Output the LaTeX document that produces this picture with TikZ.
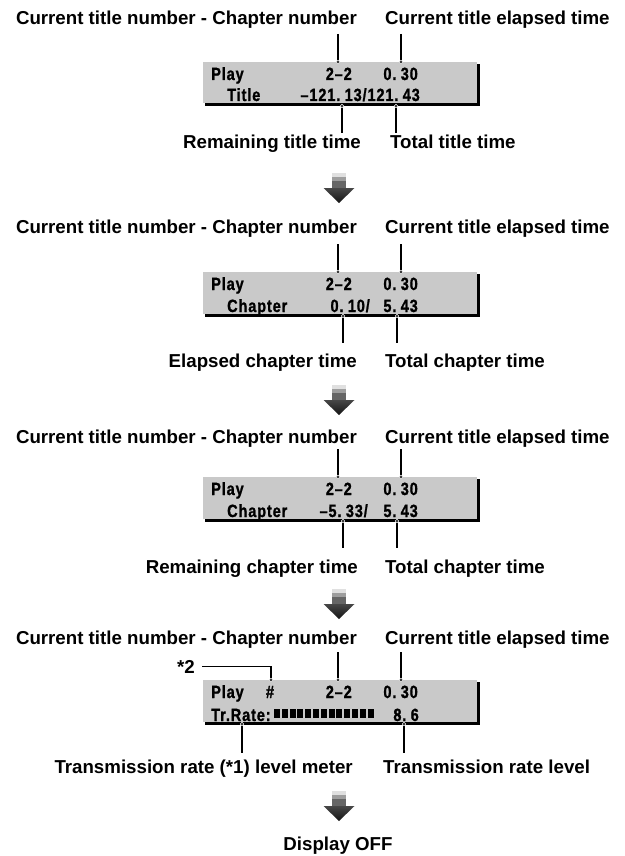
\documentclass[tikz,border=0pt]{standalone}
\usepackage{fontspec}
\newfontfamily\notefont{Liberation Sans}
\newfontfamily\lcdfont{Liberation Sans}[FakeStretch=0.82, LetterSpace=5, FakeBold=1.2, WordSpace=0.55]
\definecolor{lcdgray}{gray}{0.79}
\tikzset{
  note/.style={font={\notefont\bfseries\fontsize{18.7}{22}\selectfont}, inner sep=0pt},
  lcd/.style={font={\lcdfont\bfseries\fontsize{17.7}{20}\selectfont}, inner sep=0pt},
  leader/.style={line width=1.1pt},
  dot/.style={fill=black, draw=white, line width=0.6pt}
}
\begin{document}
\begin{tikzpicture}[x=1pt,y=-1pt]
\useasboundingbox (0,0) rectangle (624,856);
\foreach \p/\py/\dy in {1/62/-37, 2/272/-39, 3/477/-34, 4/680/-36}{
\begin{scope}[shift={(0,\py)}]
  % display with its shadow
  \fill[black] (205,2) rectangle (479.5,44.5);
  \fill[lcdgray] (203,0) rectangle (477,41.5);
  \node[lcd, anchor=base west] (play\p) at (211,18) {Play};
  \node[lcd, anchor=base east] (chap\p) at (352,18) {2–2};
  \node[lcd, anchor=base east] (time\p) at (418,18) {0. 30};
  % top callouts
  \node[note, anchor=base east] (tl\p) at (357,\dy) {Current title number - Chapter number};
  \node[note, anchor=base west] (tr\p) at (385,\dy) {Current title elapsed time};
  \coordinate (ca\p) at (338,0);
  \coordinate (cb\p) at (401,0);
  \coordinate (ea\p) at (338,-28);
  \coordinate (eb\p) at (401,-28);
  \draw[leader] (ea\p) -- (ca\p);
  \draw[leader] (eb\p) -- (cb\p);
  \filldraw[dot] (ca\p) circle (1.8pt);
  \filldraw[dot] (cb\p) circle (1.8pt);
\end{scope}
}
% step arrows
\foreach \a in {173,385,589,791}{
  \fill[black!12] (332,\a) rectangle (346,\a+4);
  \fill[black!38] (332,\a+4) rectangle (346,\a+8);
  \fill[black!60] (332,\a+8) rectangle (346,\a+15.5);
  \shade[top color=black!72, bottom color=black!92] (323.5,\a+15) -- (354.5,\a+15) -- (339,\a+30) -- cycle;
}
% title time
\begin{scope}[shift={(0,62)}]
  \node[lcd, anchor=base west] (row1) at (227,39) {Title};
  \node[lcd, anchor=base east] (val1) at (420,39) {–121. 13/121. 43};
  \coordinate (da1) at (342,44);
  \coordinate (db1) at (396,44);
  \coordinate (fa1) at (342,71);
  \coordinate (fb1) at (396,71);
  \draw[leader] (da1) -- (fa1);
  \draw[leader] (db1) -- (fb1);
  \filldraw[dot] (da1) circle (1.8pt);
  \filldraw[dot] (db1) circle (1.8pt);
  \node[note, anchor=base east] (bl1) at (361,86) {Remaining title time};
  \node[note, anchor=base west] (br1) at (390,86) {Total title time};
\end{scope}
% elapsed chapter time
\begin{scope}[shift={(0,272)}]
  \node[lcd, anchor=base west] (row2) at (227,40) {Chapter};
  \node[lcd, anchor=base east] (val2) at (370,40) {0. 10/};
  \node[lcd, anchor=base east] (tot2) at (418,40) {5. 43};
  \coordinate (da2) at (343,44);
  \coordinate (db2) at (397,44);
  \coordinate (fa2) at (343,71);
  \coordinate (fb2) at (397,71);
  \draw[leader] (da2) -- (fa2);
  \draw[leader] (db2) -- (fb2);
  \filldraw[dot] (da2) circle (1.8pt);
  \filldraw[dot] (db2) circle (1.8pt);
  \node[note, anchor=base east] (bl2) at (357,95) {Elapsed chapter time};
  \node[note, anchor=base west] (br2) at (385,95) {Total chapter time};
\end{scope}
% remaining chapter time
\begin{scope}[shift={(0,477)}]
  \node[lcd, anchor=base west] (row3) at (227,40) {Chapter};
  \node[lcd, anchor=base east] (val3) at (368,40) {–5. 33/};
  \node[lcd, anchor=base east] (tot3) at (418,40) {5. 43};
  \coordinate (da3) at (343,44);
  \coordinate (db3) at (397,44);
  \coordinate (fa3) at (343,71);
  \coordinate (fb3) at (397,71);
  \draw[leader] (da3) -- (fa3);
  \draw[leader] (db3) -- (fb3);
  \filldraw[dot] (da3) circle (1.8pt);
  \filldraw[dot] (db3) circle (1.8pt);
  \node[note, anchor=base east] (bl3) at (358,96) {Remaining chapter time};
  \node[note, anchor=base west] (br3) at (385,96) {Total chapter time};
\end{scope}
% transmission rate
\begin{scope}[shift={(0,680)}]
  \node[lcd, anchor=base] (hash) at (270,18) {\#};
  \node[lcd, anchor=base west] (row4) at (211,41) {Tr.Rate:};
  \foreach \k in {0,...,12}
    \fill (274+\k*7.8,29) rectangle (280+\k*7.8,38);
  \node[lcd, anchor=base east] (val4) at (419,41) {8. 6};
  \node[note, anchor=base east] (star) at (195,-7) {*2};
  \coordinate (dh) at (271,0);
  \draw[leader, shorten >=7pt] (dh) |- (star.east);
  \filldraw[dot] (dh) circle (1.8pt);
  \coordinate (da4) at (242,44);
  \coordinate (db4) at (404,44);
  \coordinate (fa4) at (242,73);
  \coordinate (fb4) at (404,73);
  \draw[leader] (da4) -- (fa4);
  \draw[leader] (db4) -- (fb4);
  \filldraw[dot] (da4) circle (1.8pt);
  \filldraw[dot] (db4) circle (1.8pt);
  \node[note, anchor=base east] (bl4) at (353,93) {Transmission rate (*1) level meter};
  \node[note, anchor=base west] (br4) at (383,93) {Transmission rate level};
\end{scope}
\node[note, anchor=base] (off) at (338,850) {Display OFF};
\end{tikzpicture}
\end{document}
